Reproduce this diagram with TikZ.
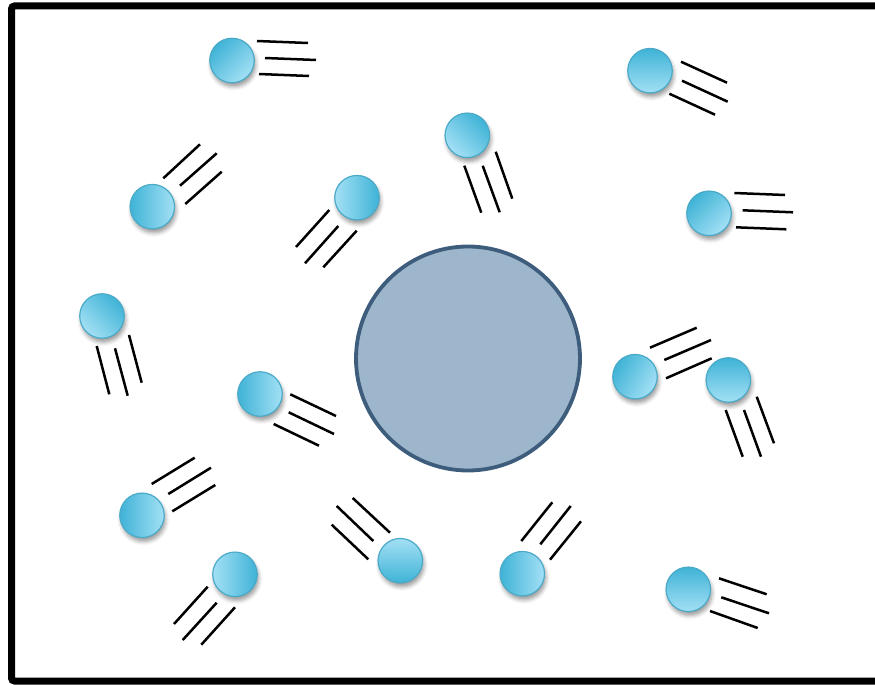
\documentclass[tikz,border=0pt]{standalone}
\usetikzlibrary{shadows.blur}
\definecolor{ballLight}{HTML}{A3E0F5}
\definecolor{ballDark}{HTML}{3FB3D6}
\definecolor{ballEdge}{HTML}{4AAAC8}
\definecolor{bigFill}{HTML}{9EB6CC}
\definecolor{bigEdge}{HTML}{3E5D7C}
\begin{document}
\begin{tikzpicture}[x=1pt,y=-1pt,
  ball/.style={circle, draw=ballEdge, line width=1.2pt, minimum size=44.5pt, inner sep=0pt,
    top color=ballLight, bottom color=ballDark, shading angle=#1,
    blur shadow={shadow xshift=1.5pt, shadow yshift=-4pt, shadow blur radius=4pt, shadow opacity=40}},
  trail/.style={line width=2.5pt, black},
  frame/.style={line width=7pt, black, rounded corners=3pt},
  target/.style={circle, draw=bigEdge, line width=3.8pt, fill=bigFill, minimum size=224pt, inner sep=0pt}]
\useasboundingbox (0,0) rectangle (875,685);
\clip (0,0) rectangle (875,685);
\draw[frame] (11.5,6) rectangle (900,681);
\node[target] (big) at (468,358.5) {};
% balls
\node[ball=-135] (b1) at (232,60.5) {};
\node[ball=180] (b2) at (650,70.7) {};
\node[ball=135] (b3) at (467.3,135.3) {};
\node[ball=-90] (b4) at (152.3,206.7) {};
\node[ball=90] (b5) at (357,197.7) {};
\node[ball=-135] (b6) at (709,213.3) {};
\node[ball=135] (b7) at (102,316) {};
\node[ball=-90] (b8) at (260,394) {};
\node[ball=-120] (b9) at (635,376.7) {};
\node[ball=180] (b10) at (728.3,380) {};
\node[ball=-90] (b11) at (142,515.3) {};
\node[ball=90] (b12) at (235,574.3) {};
\node[ball=0] (b13) at (400.3,560.7) {};
\node[ball=-90] (b14) at (522.3,573.7) {};
\node[ball=180] (b15) at (688.3,589.3) {};
% motion trails
\draw[trail] (257,41)--(308,43) (265,58)--(316,60) (259,74)--(309,76);
\draw[trail] (681,61.7)--(727,82.7) (682,80.7)--(727.7,101.7) (669.3,93.7)--(715,114.7);
\draw[trail] (464.3,165.7)--(481.3,212.7) (482.7,165.7)--(499.7,212.3) (495.7,151.7)--(512.3,198.7);
\draw[trail] (163.3,178.3)--(200,144.3) (180,185.7)--(216.7,153.3) (185.3,204)--(221.7,171.7);
\draw[trail] (329.3,210)--(296,247) (338.3,226)--(305,263.3) (356.7,230.7)--(323.3,267.3);
\draw[trail] (734.3,193)--(785,195) (742.7,210.3)--(793,212.3) (736,227.3)--(786.3,229.3);
\draw[trail] (96.7,346)--(109.3,394.3) (115,348.3)--(127.7,395.7) (129,335)--(141.7,382.7);
\draw[trail] (290.3,394.3)--(336,416) (288.7,412.3)--(334,434) (273.7,424)--(319,445.7);
\draw[trail] (650,347.7)--(696.7,327.7) (664.3,360)--(711,340) (666,378.3)--(711.7,358.3);
\draw[trail] (725.7,410)--(742.7,456.7) (744,410)--(761,456.7) (756.7,396.7)--(774,443.3);
\draw[trail] (151.7,484)--(194.7,457.7) (168.3,494)--(211,467.7) (172.3,511.3)--(215.3,485);
\draw[trail] (207.7,586.7)--(174,624) (216.7,602.7)--(182.7,640) (235,607.3)--(201.3,644.7);
\draw[trail] (352.7,498)--(390,532.7) (336.7,506)--(373.3,541) (331.7,524.7)--(368.3,559.3);
\draw[trail] (521.3,541)--(552.3,502.3) (540.3,544.3)--(570.7,506) (550,559.7)--(581,521.3);
\draw[trail] (719,578.3)--(766.7,594.3) (721.3,597.3)--(769,613.3) (710,611)--(757.7,628);
\end{tikzpicture}
\end{document}
